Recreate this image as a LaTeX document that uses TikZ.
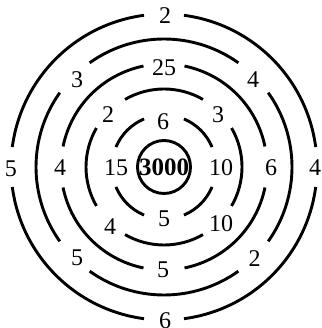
\documentclass[tikz,border=0pt]{standalone}
\usepackage{fontspec}
\setmainfont{Liberation Serif}
\begin{document}
\begin{tikzpicture}[x=1pt,y=-1pt,
  ring/.style={line width=2.9pt},
  lab/.style={inner sep=0pt,font=\fontsize{24}{24}\selectfont},
  biglab/.style={inner sep=0pt,font=\fontsize{25}{25}\selectfont\bfseries}]
\useasboundingbox (0,0) rectangle (321,328);
\coordinate (c) at (164,167);
% inner circle
\draw[ring] (c) circle[radius=26.5];
% ring 1: gaps at 0,90,180,270 (+-22.5)
\foreach \a in {0,90,180,270}
  \draw[ring] (c) ++(\a+22.5:52) arc[start angle=\a+22.5,end angle=\a+67.5,radius=52];
% ring 2: gaps at 45,135,... (+-15)
\foreach \a in {0,90,180,270}
  \draw[ring] (c) ++(\a-30:78) arc[start angle=\a-30,end angle=\a+30,radius=78];
% ring 3: gaps at 0,90,... (+-11.5)
\foreach \a in {0,90,180,270}
  \draw[ring] (c) ++(\a+11.5:103) arc[start angle=\a+11.5,end angle=\a+78.5,radius=103];
% ring 4: gaps at 45,135,... (+-9.5)
\foreach \a in {0,90,180,270}
  \draw[ring] (c) ++(\a-35.5:128) arc[start angle=\a-35.5,end angle=\a+35.5,radius=128];
% ring 5: gaps at 0,90,... (+-7.5)
\foreach \a in {0,90,180,270}
  \draw[ring] (c) ++(\a+7.5:153) arc[start angle=\a+7.5,end angle=\a+82.5,radius=153];
% labels
\node[biglab] (center) at (164,167.5) {3000};
% ring 1
\node[lab] (r1t) at (163,122) {6};
\node[lab] (r1b) at (164,219) {5};
\node[lab] (r1l) at (116,168) {15};
\node[lab] (r1r) at (221,168) {10};
% ring 2
\node[lab] (r2tl) at (108,115) {2};
\node[lab] (r2tr) at (218,115) {3};
\node[lab] (r2br) at (221,224) {10};
\node[lab] (r2bl) at (110,227) {4};
% ring 3
\node[lab] (r3t) at (164,68) {25};
\node[lab] (r3b) at (163,270) {5};
\node[lab] (r3l) at (60,168) {4};
\node[lab] (r3r) at (271,168) {6};
% ring 4
\node[lab] (r4tl) at (77,80) {3};
\node[lab] (r4tr) at (253,80) {4};
\node[lab] (r4br) at (254.5,258.5) {2};
\node[lab] (r4bl) at (77,258) {5};
% ring 5
\node[lab] (r5t) at (165,16) {2};
\node[lab] (r5b) at (165,321) {6};
\node[lab] (r5l) at (11,169) {5};
\node[lab] (r5r) at (315,168) {4};
\end{tikzpicture}
\end{document}
